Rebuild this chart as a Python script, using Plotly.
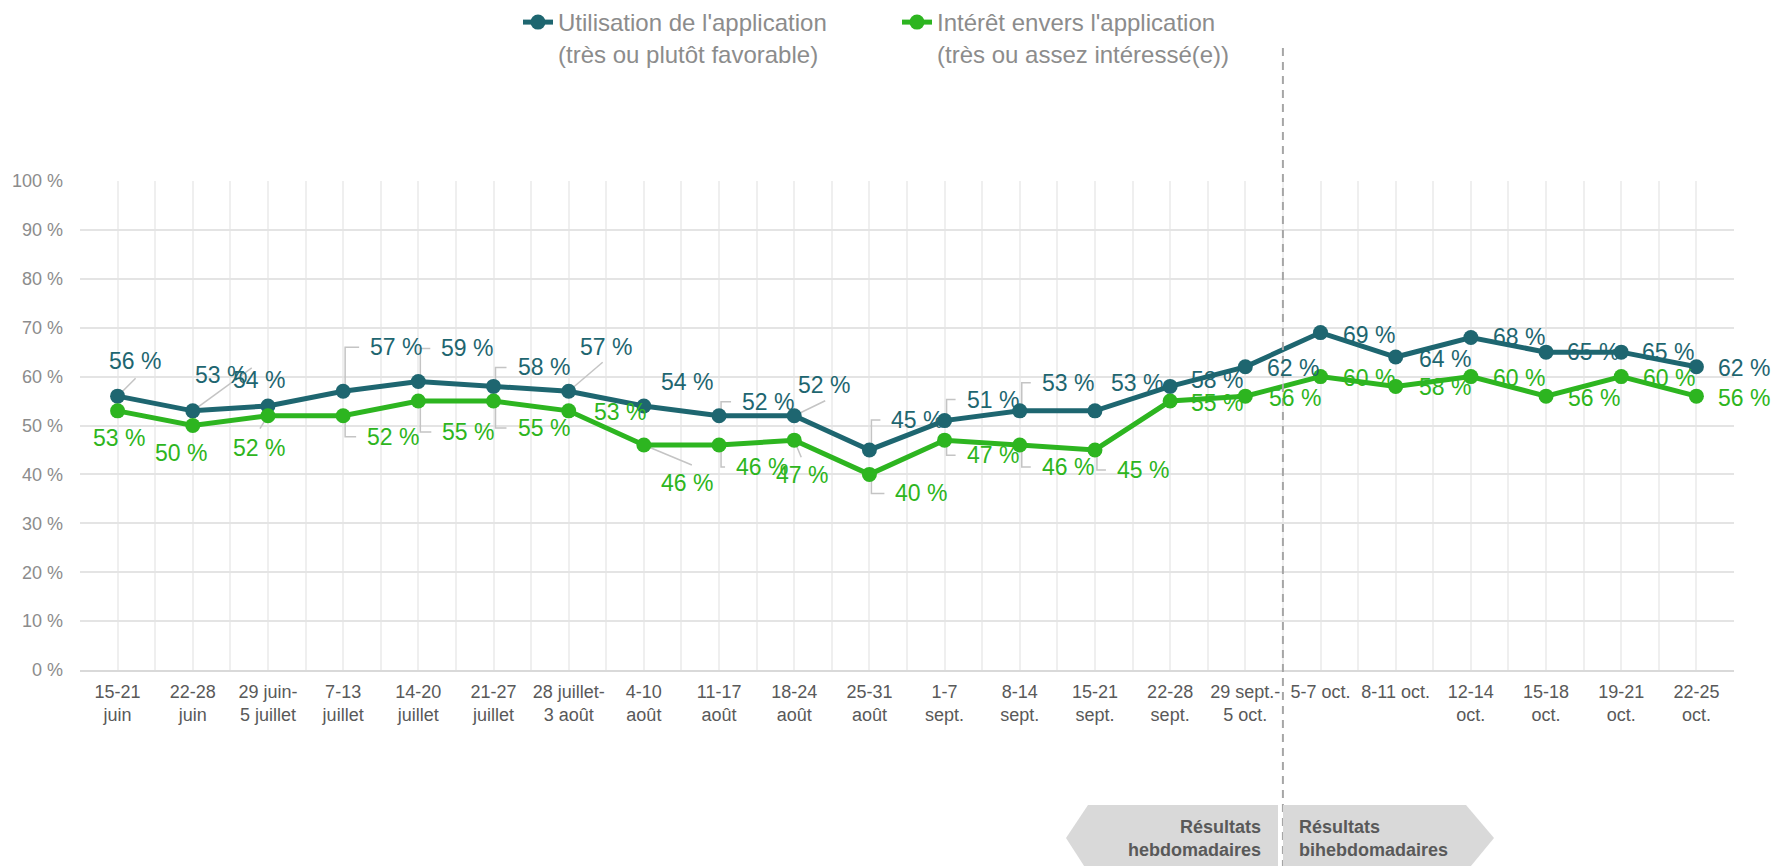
import plotly.graph_objects as go

# ---------------- data ----------------
categories = ["15-21<br>juin", "22-28<br>juin", "29 juin-<br>5 juillet", "7-13<br>juillet",
              "14-20<br>juillet", "21-27<br>juillet", "28 juillet-<br>3 août", "4-10<br>août",
              "11-17<br>août", "18-24<br>août", "25-31<br>août", "1-7<br>sept.", "8-14<br>sept.",
              "15-21<br>sept.", "22-28<br>sept.", "29 sept.-<br>5 oct.", "5-7 oct.", "8-11 oct.",
              "12-14<br>oct.", "15-18<br>oct.", "19-21<br>oct.", "22-25<br>oct."]
utilisation = [56, 53, 54, 57, 59, 58, 57, 54, 52, 52, 45, 51, 53, 53, 58, 62, 69, 64, 68, 65, 65, 62]
interet = [53, 50, 52, 52, 55, 55, 53, 46, 46, 47, 40, 47, 46, 45, 55, 56, 60, 58, 60, 56, 60, 56]
series_names = ["Utilisation de l'application<br>(très ou plutôt favorable)",
                "Intérêt envers l'application<br>(très ou assez intéressé(e))"]
y_ticks = list(range(0, 101, 10))
y_tick_labels = [f"{v} %" for v in y_ticks]
period_labels = ["Résultats<br>hebdomadaires", "Résultats<br>bihebdomadaires"]
split_after = 15  # last weekly period index

# ---------------- styling ----------------
C_UTIL = "#1e6670"
C_INT = "#2db520"
C_LEAD = "#c4c4c4"
FONT = "Liberation Sans, Arial, sans-serif"
W, H = 1777, 866
ML, MR, MT, MB = 80, 43, 181, 196
PW, PH = W - ML - MR, H - MT - MB


def px2x(px):
    return (px - ML) / PW


def px2y(py):
    return (H - MB - py) / PH


# label offsets (pixels, screen: +x right, +y down) and leader style
util_lab = [(17, -35, ("d", 18, -18)), (28, -36, ("d", 59, -43)), (-9, -26, None), (53, -44, "e"),
            (49, -33, "e"), (50, -19, "e"), (37, -44, ("d", 34, -29)), (43, -24, None),
            (49, -14, "e"), (30, -31, ("d", 31, -15)), (48, -30, "e"), (48, -21, "e"),
            (48, -28, "e"), (42, -28, None), (47, -6, None), (48, 1, None), (48, 2, None),
            (49, 2, None), (48, 0, None), (47, 0, None), (47, 0, None), (48, 1, None)]
int_lab = [(1, 27, None), (-12, 27, None), (-9, 32, ("d", -8, 13)), (50, 21, "e"),
           (50, 31, "e"), (50, 27, "e"), (51, 1, None), (43, 38, ("d", 48, 20)),
           (43, 22, "e"), (8, 35, ("d", 7, 17)), (52, 19, "e"), (48, 15, "e"),
           (48, 22, "e"), (48, 20, "e"), (47, 2, None), (50, 2, None), (48, 1, None),
           (49, 1, None), (48, 1, None), (48, 2, None), (48, 1, None), (48, 2, None)]

x_idx = list(range(len(categories)))

fig = go.Figure()
for vals, name, col in [(utilisation, series_names[0], C_UTIL), (interet, series_names[1], C_INT)]:
    fig.add_trace(go.Scatter(x=x_idx, y=vals, name=name, mode="lines+markers",
                             line=dict(color=col, width=5), marker=dict(color=col, size=15),
                             cliponaxis=False, hoverinfo="skip"))

annotations = []
shapes = []


def pix_path(i, v, pts):
    # pts: screen pixel offsets (+y down) relative to the data point
    d = "M " + " L ".join(f"{a},{-b}" for a, b in pts)
    shapes.append(dict(type="path", xref="x", yref="y", xsizemode="pixel", ysizemode="pixel",
                       xanchor=i, yanchor=v, path=d,
                       line=dict(color=C_LEAD, width=1.5), layer="between"))


for vals, specs, col in [(utilisation, util_lab, C_UTIL), (interet, int_lab, C_INT)]:
    for i, (v, (dx, dy, ld)) in enumerate(zip(vals, specs)):
        annotations.append(dict(x=i, y=v, xref="x", yref="y", text=f"{v} %", showarrow=False,
                                xshift=dx, yshift=-dy, font=dict(size=23, color=col, family=FONT)))
        if ld == "e":
            pix_path(i, v, [(2, 0), (2, dy), (dx - 37, dy)])
        elif ld is not None:
            pix_path(i, v, [(0, 0), (ld[1], ld[2])])

# dashed separator between weekly and bi-weekly results
shapes.append(dict(type="line", xref="x", yref="paper", x0=split_after + 0.5, x1=split_after + 0.5,
                   y0=px2y(H + 2), y1=px2y(45), line=dict(color="#a6a6a6", width=2, dash="8px,6px"),
                   layer="above"))


# bottom arrow boxes
def poly(points):
    d = "M " + " L ".join(f"{px2x(a):.5f},{px2y(b):.5f}" for a, b in points) + " Z"
    return dict(type="path", xref="paper", yref="paper", path=d, fillcolor="#d9d9d9",
                line=dict(width=0), layer="above")


shapes.append(poly([(1088, 805), (1278, 805), (1278, 872), (1088, 872), (1066, 838)]))
shapes.append(poly([(1283, 805), (1466, 805), (1494, 838), (1466, 872), (1283, 872)]))
annotations.append(dict(xref="paper", yref="paper", x=px2x(1263), y=px2y(838), xanchor="right",
                        yanchor="middle", align="right", text=f"<b>{period_labels[0]}</b>",
                        showarrow=False, font=dict(size=18, color="#595959", family=FONT)))
annotations.append(dict(xref="paper", yref="paper", x=px2x(1297), y=px2y(838), xanchor="left",
                        yanchor="middle", align="left", text=f"<b>{period_labels[1]}</b>",
                        showarrow=False, font=dict(size=18, color="#595959", family=FONT)))

fig.update_layout(
    width=W, height=H, margin=dict(l=ML, r=MR, t=MT, b=MB, autoexpand=False),
    paper_bgcolor="white", plot_bgcolor="white",
    font=dict(family=FONT),
    showlegend=True,
    legend=dict(orientation="h", xref="container", yref="container",
                x=518 / W, xanchor="left", y=1, yanchor="top",
                font=dict(size=24, color="#8c8c8c", family=FONT), valign="top",
                entrywidth=334, entrywidthmode="pixels", bgcolor="rgba(0,0,0,0)"),
    annotations=annotations, shapes=shapes,
    xaxis=dict(range=[-0.5, len(categories) - 0.5], tickmode="array", tickvals=x_idx,
               ticktext=categories, showgrid=True, gridcolor="#efefef", gridwidth=1.5,
               minor=dict(tickmode="array", tickvals=[i + 0.5 for i in range(-1, len(categories))],
                          showgrid=True, gridcolor="#efefef", gridwidth=1.5),
               showline=True, linecolor="#d9d9d9", linewidth=2, zeroline=False, automargin=False,
               tickfont=dict(size=18, color="#595959", family=FONT), ticks="", ticklabelstandoff=4),
    yaxis=dict(range=[0, 100], tickmode="array", tickvals=y_ticks, ticktext=y_tick_labels,
               showgrid=True, gridcolor="#e4e4e4", gridwidth=2, zeroline=False, automargin=False,
               tickfont=dict(size=18, color="#8c8c8c", family=FONT), ticks="", ticklabelstandoff=16),
)

fig.write_html("out.html", config={"displayModeBar": False},
               post_script="document.body.style.margin='0';")
